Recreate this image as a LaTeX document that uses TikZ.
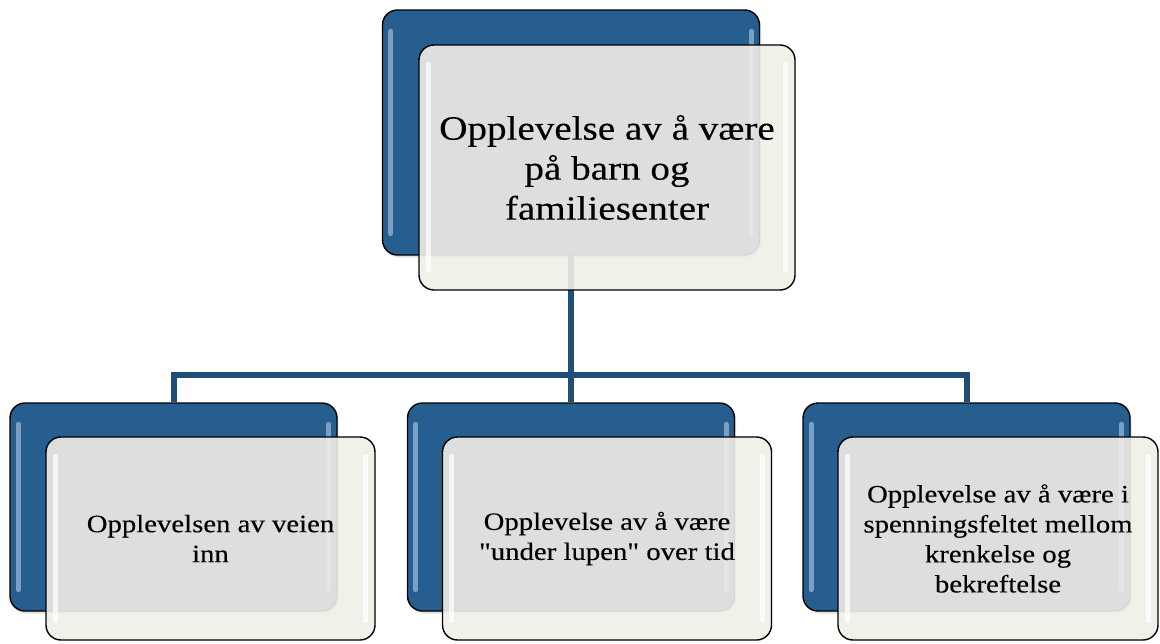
\documentclass[tikz,border=0pt]{standalone}
\usepackage{fontspec}
\setmainfont[FakeStretch=1.15,FakeBold=0.25,Ligatures=TeXOff]{Liberation Serif}
\usetikzlibrary{shadows}
\definecolor{boxblue}{RGB}{38,94,144}
\definecolor{frontfill}{RGB}{240,238,231}
\definecolor{connblue}{RGB}{31,78,121}
\definecolor{hlblue}{RGB}{178,205,235}
\begin{document}
\begin{tikzpicture}[x=1pt,y=-1pt,
  backbox/.style={draw=black, line width=1.4pt, fill=boxblue, rounded corners=15pt,
    inner sep=0pt, drop shadow={opacity=0.25, shadow xshift=1.5pt, shadow yshift=-2.5pt}},
  frontbox/.style={draw=black, line width=1.4pt, fill=frontfill, fill opacity=0.9,
    text opacity=1, rounded corners=15pt, inner sep=0pt, align=center},
  bighead/.style={font=\fontsize{34}{40}\selectfont},
  smallhead/.style={font=\fontsize{25}{30}\selectfont},
  connector/.style={draw=connblue, line width=6pt},
  backhl/.style={draw=hlblue, line width=5pt, line cap=round, opacity=0.6},
  fronthl/.style={draw=white, line width=5pt, line cap=round, opacity=0.75}]
\useasboundingbox (0,0) rectangle (1160,643);

\coordinate (bus) at (571,374.5);

% back boxes
\node[backbox, minimum width=377pt, minimum height=245pt] (b0) at (571,132.5) {};
\node[backbox, minimum width=327pt, minimum height=208pt] (b1) at (173.5,507) {};
\node[backbox, minimum width=327pt, minimum height=208pt] (b2) at (571,507) {};
\node[backbox, minimum width=327pt, minimum height=208pt] (b3) at (966.5,507) {};

% connectors
\draw[connector] (b0.south) -- (bus);
\draw[connector] (b1.north) -- (b1.north |- bus) -- (b3.north |- bus) -- (b3.north);
\draw[connector] (b2.north) -- (b2.north |- bus);

% glossy highlights on back boxes
\foreach \b in {b0,b1,b2,b3}{
  \draw[backhl] ([xshift=9pt,yshift=-22pt]\b.north west) -- ([xshift=9pt,yshift=22pt]\b.south west);
  \draw[backhl] ([xshift=-9pt,yshift=-22pt]\b.north east) -- ([xshift=-9pt,yshift=22pt]\b.south east);
}

% front boxes
\node[frontbox, bighead, minimum width=376pt, minimum height=245pt] (f0) at (607,167.5)
  {Opplevelse av å være\\på barn og\\familiesenter};
\node[frontbox, smallhead, minimum width=329pt, minimum height=203pt] (f1) at (210.5,538.5)
  {Opplevelsen av veien\\inn};
\node[frontbox, smallhead, minimum width=329pt, minimum height=203pt] (f2) at (607,538.5)
  {Opplevelse av å være\\"under lupen" over tid};
\node[frontbox, smallhead, minimum width=320pt, minimum height=203pt] (f3) at (998,538.5)
  {Opplevelse av å være i\\spenningsfeltet mellom\\krenkelse og\\bekreftelse};

\foreach \f in {f0,f1,f2,f3}{
  \draw[fronthl] ([xshift=10pt,yshift=-20pt]\f.north west) -- ([xshift=10pt,yshift=20pt]\f.south west);
  \draw[fronthl] ([xshift=-10pt,yshift=-20pt]\f.north east) -- ([xshift=-10pt,yshift=20pt]\f.south east);
}
\end{tikzpicture}
\end{document}
